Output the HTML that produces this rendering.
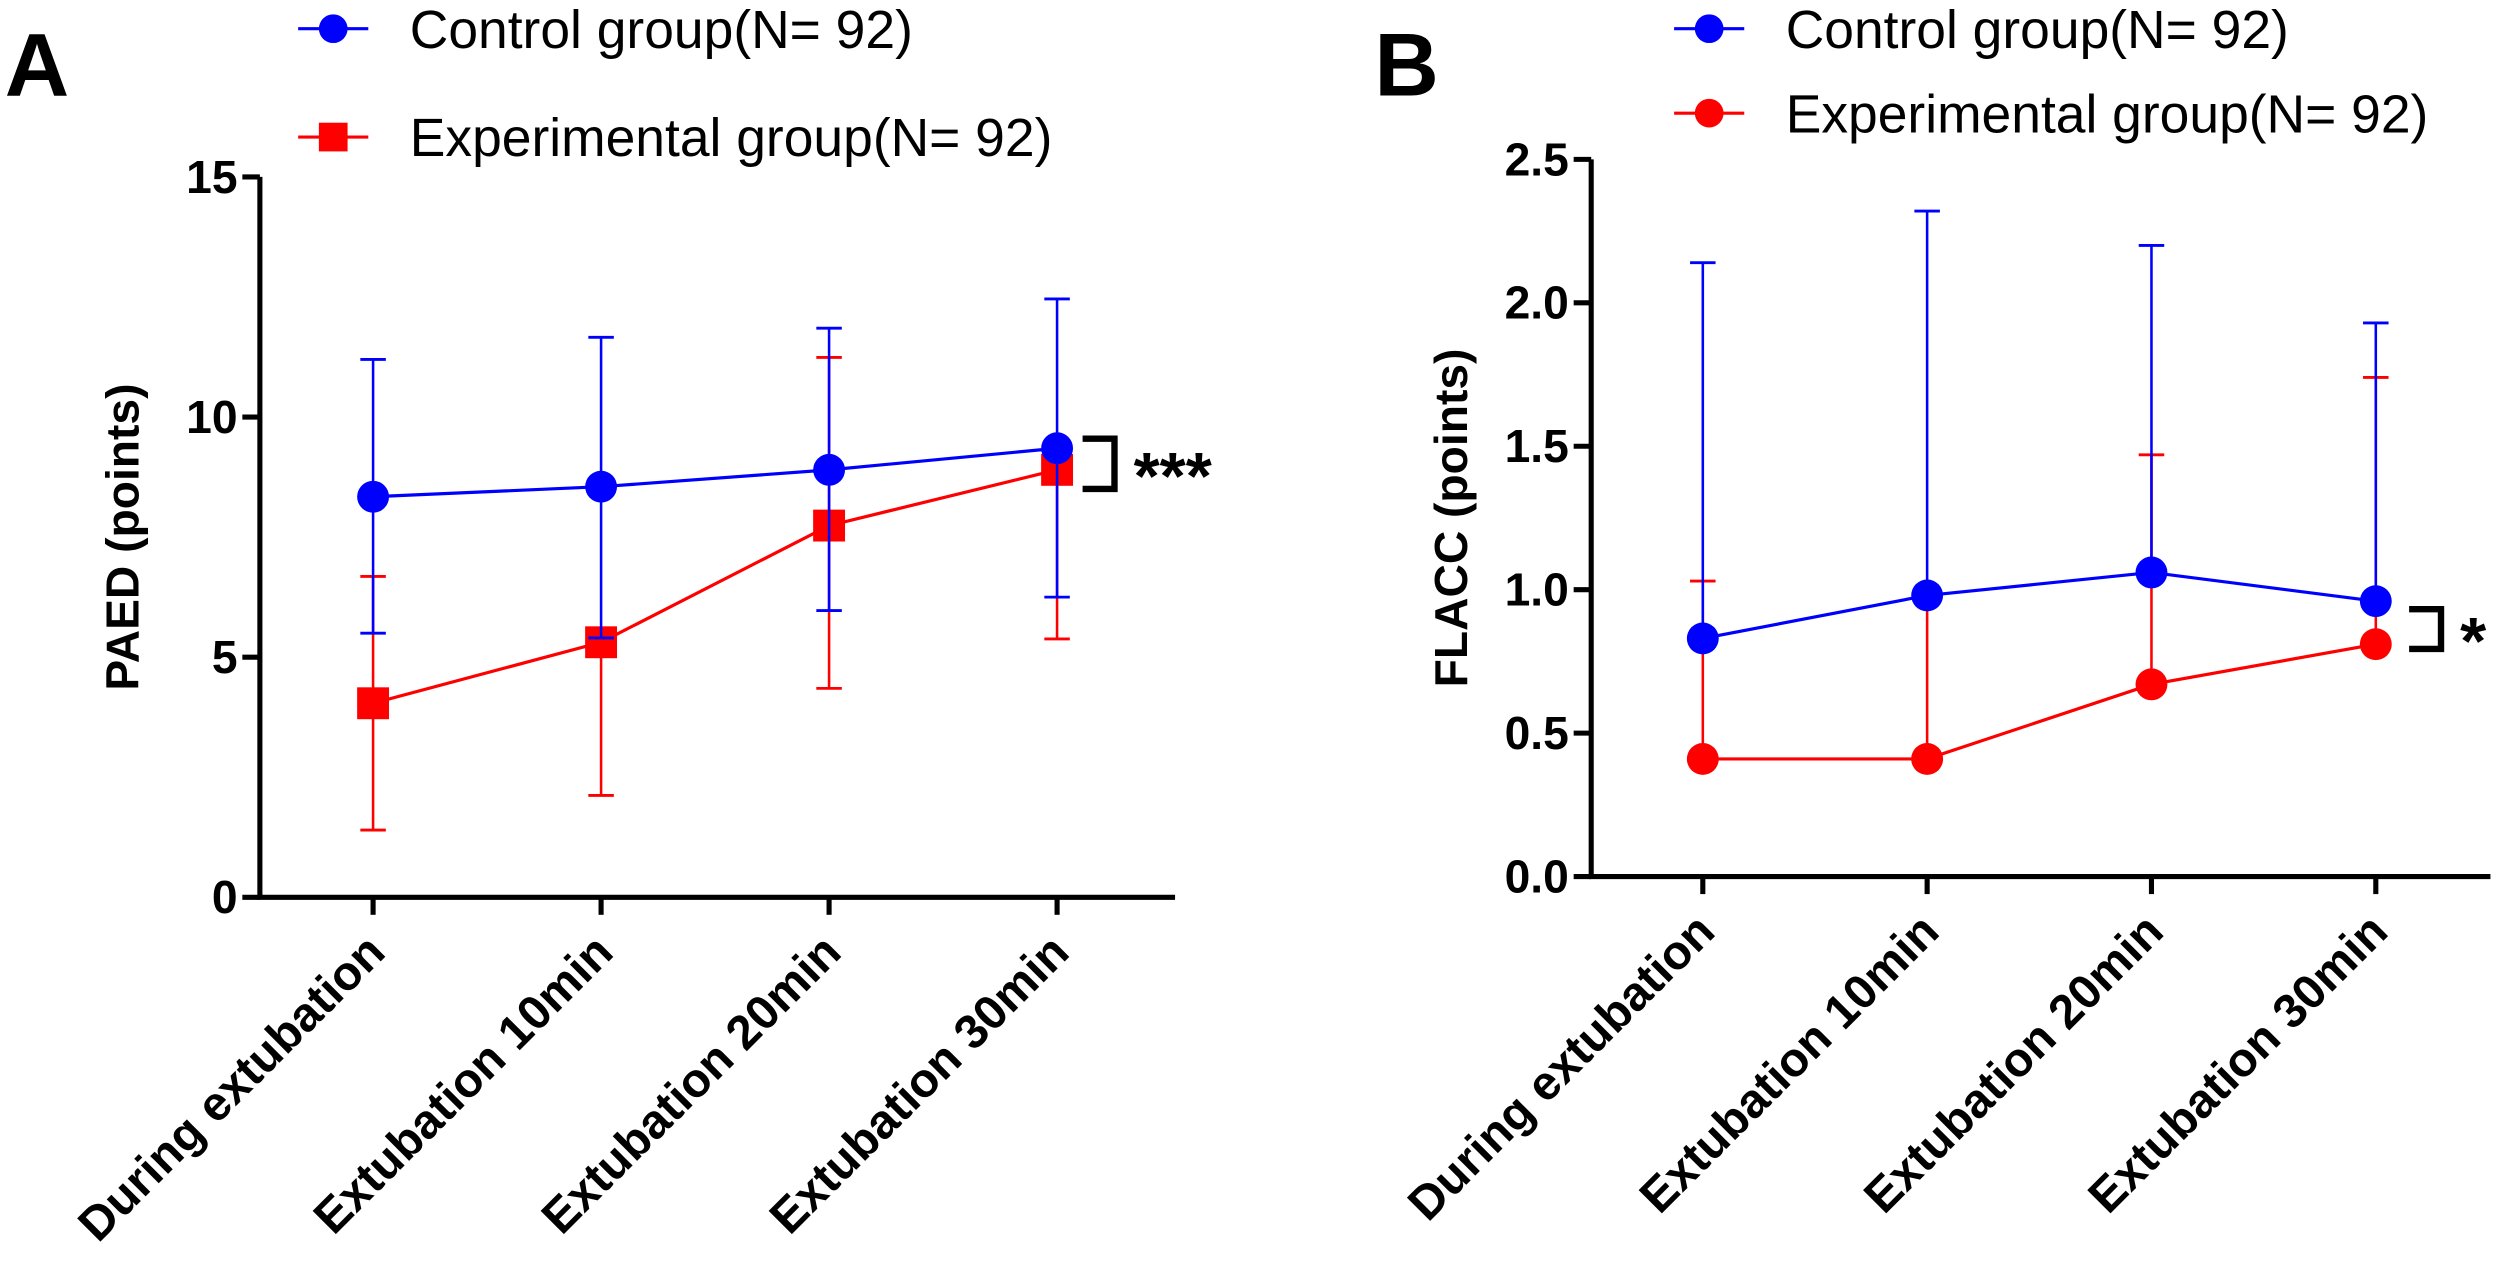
<!DOCTYPE html>
<html><head><meta charset="utf-8"><style>
html,body{margin:0;padding:0;background:#fff;}
svg{display:block;font-family:"Liberation Sans",Arial,sans-serif;}
</style></head><body>
<svg id="fig" width="2500" height="1275" viewBox="0 0 1568 800" preserveAspectRatio="none" xmlns="http://www.w3.org/2000/svg"></svg>
<script>
const categories = ["During extubation","Extubation 10min","Extubation 20min","Extubation 30min"];
// Panel A (PAED)
const aCtrlMean = [8.34, 8.55, 8.9, 9.35];
const aCtrlUp = [11.2, 11.66, 11.85, 12.46];
const aCtrlLo = [5.5, 5.4, 5.97, 6.25];
const aExpMean = [4.04, 5.31, 7.74, 8.9];
const aExpUp = [6.68, 5.45, 11.24, 9.3];
const aExpLo = [1.4, 2.12, 4.35, 5.38];
const aTicks = [0, 5, 10, 15];
const aTickLabels = ["0","5","10","15"];
// Panel B (FLACC)
const bCtrlMean = [0.83, 0.98, 1.06, 0.96];
const bCtrlUp = [2.14, 2.32, 2.2, 1.93];
const bExpMean = [0.41, 0.41, 0.67, 0.81];
const bExpUp = [1.03, 0.97, 1.47, 1.74];
const bTicks = [0, 0.5, 1.0, 1.5, 2.0, 2.5];
const bTickLabels = ["0.0","0.5","1.0","1.5","2.0","2.5"];

const NS = "http://www.w3.org/2000/svg";
const svg = document.getElementById('fig');
function mk(tag, attrs, parent, text){
  const e = document.createElementNS(NS, tag);
  for (const k in attrs) e.setAttribute(k, attrs[k]);
  if (text !== undefined) e.textContent = text;
  (parent || svg).appendChild(e);
  return e;
}

function panel(cfg){
  const g = mk('g', {});
  
  
  const y = v => cfg.y0 - (v - cfg.vmin) / (cfg.vmax - cfg.vmin) * (cfg.y0 - cfg.yTop);
  const x = i => cfg.xs0 + i * cfg.dx;
  const ya = mk('line', {x1: cfg.ax, y1: cfg.yTop, x2: cfg.ax, y2: cfg.y0, stroke: '#000', 'stroke-width': 3.2}, g);
  
  
  const xa = mk('line', {x1: cfg.ax - 1.6, y1: cfg.y0, x2: cfg.axEnd, y2: cfg.y0, stroke: '#000', 'stroke-width': 3.2}, g);
  
  
  cfg.ticks.forEach((t, i) => {
    mk('line', {x1: cfg.ax - 11, y1: y(t), x2: cfg.ax, y2: y(t), stroke: '#000', 'stroke-width': 3.2}, g);
    const tl = mk('text', {x: cfg.ax - 14, y: y(t) + 10, 'text-anchor': 'end', 'font-size': 29, 'font-weight': 'bold'}, g, cfg.tickLabels[i]);
    
    
  });
  categories.forEach((c, i) => {
    mk('line', {x1: x(i), y1: cfg.y0, x2: x(i), y2: cfg.y0 + 11, stroke: '#000', 'stroke-width': 3.2}, g);
    const tx = x(i) + 9, ty = cfg.y0 + 36;
    const t = mk('text', {x: tx, y: ty, 'text-anchor': 'end', 'font-size': 30, 'font-weight': 'bold', transform: `rotate(-45 ${tx} ${ty})`}, g, c);
    
    
  });
  const yt = mk('text', {x: cfg.titleX, y: cfg.titleY, 'text-anchor': 'middle', 'font-size': 29, 'font-weight': 'bold', transform: `rotate(-90 ${cfg.titleX} ${cfg.titleY})`}, g, cfg.title);
  
  

  function series(mean, up, lo, color, marker, sname){
    const sg = mk('g', {}, g);
    
    
    mean.forEach((m, i) => {
      const top = up ? up[i] : m;
      const bot = lo ? lo[i] : m;
      mk('line', {x1: x(i), y1: y(top), x2: x(i), y2: y(bot), stroke: color, 'stroke-width': 1.6}, sg);
      if (up) mk('line', {x1: x(i) - 8, y1: y(top), x2: x(i) + 8, y2: y(top), stroke: color, 'stroke-width': 1.8}, sg);
      if (lo) mk('line', {x1: x(i) - 8, y1: y(bot), x2: x(i) + 8, y2: y(bot), stroke: color, 'stroke-width': 1.8}, sg);
    });
    mk('polyline', {points: mean.map((m, i) => `${x(i)},${y(m)}`).join(' '), fill: 'none', stroke: color, 'stroke-width': 2}, sg);
    mean.forEach((m, i) => {
      let p;
      if (marker === 'square') p = mk('rect', {x: x(i) - 10, y: y(m) - 10, width: 20, height: 20, fill: color}, sg);
      else p = mk('circle', {cx: x(i), cy: y(m), r: 10, fill: color}, sg);
      
      
    });
  }
  series(cfg.eMean, cfg.eUp, cfg.eLo, '#ff0000', cfg.eMarker, 'experimental-series');
  series(cfg.cMean, cfg.cUp, cfg.cLo, '#0000ff', 'circle', 'control-series');

  const bg = mk('g', {}, g);
  
  
  const b1 = y(cfg.cMean[3]) + cfg.brOff1, b2 = y(cfg.eMean[3]) + cfg.brOff2;
  mk('polyline', {points: `${cfg.brX},${b1} ${cfg.brX + 20},${b1} ${cfg.brX + 20},${b2} ${cfg.brX},${b2}`, fill: 'none', stroke: '#000', 'stroke-width': 4}, bg);
  mk('text', {x: cfg.brX + 32, y: (b1 + b2) / 2 + 22, 'font-size': 42, 'font-weight': 'bold'}, bg, cfg.stars);

  const pl = mk('text', {x: cfg.letterX, y: 60, 'font-size': 56, 'font-weight': 'bold'}, g, cfg.letter);
  
  

  const lg = mk('g', {}, g);
  
  
  const e1 = mk('g', {}, lg);
  
  
  mk('line', {x1: cfg.legX, y1: cfg.legY1, x2: cfg.legX + 44, y2: cfg.legY1, stroke: '#0000ff', 'stroke-width': 2}, e1);
  mk('circle', {cx: cfg.legX + 22, cy: cfg.legY1, r: 9, fill: '#0000ff'}, e1);
  mk('text', {x: cfg.legX + 70, y: cfg.legY1 + 12, 'font-size': 33.5}, e1, 'Control group(N= 92)');
  const e2 = mk('g', {}, lg);
  
  
  mk('line', {x1: cfg.legX, y1: cfg.legY2, x2: cfg.legX + 44, y2: cfg.legY2, stroke: '#ff0000', 'stroke-width': 2}, e2);
  if (cfg.eMarker === 'square') mk('rect', {x: cfg.legX + 13, y: cfg.legY2 - 9, width: 18, height: 18, fill: '#ff0000'}, e2);
  else mk('circle', {cx: cfg.legX + 22, cy: cfg.legY2, r: 9, fill: '#ff0000'}, e2);
  mk('text', {x: cfg.legX + 70, y: cfg.legY2 + 12, 'font-size': 33.5}, e2, 'Experimental group(N= 92)');
}

panel({name: 'panel-a-paed', letter: 'A', letterX: 3, ax: 163, axEnd: 737, y0: 563, yTop: 111, vmin: 0, vmax: 15,
  xs0: 234, dx: 143, ticks: aTicks, tickLabels: aTickLabels, title: 'PAED (points)', titleX: 87, titleY: 337,
  cMean: aCtrlMean, cUp: aCtrlUp, cLo: aCtrlLo, eMean: aExpMean, eUp: aExpUp, eLo: aExpLo, eMarker: 'square',
  brX: 679, brOff1: -6, brOff2: 12, stars: '***', legX: 187, legY1: 18, legY2: 86});
panel({name: 'panel-b-flacc', letter: 'B', letterX: 862, ax: 998, axEnd: 1562, y0: 550, yTop: 100, vmin: 0, vmax: 2.5,
  xs0: 1068, dx: 140.7, ticks: bTicks, tickLabels: bTickLabels, title: 'FLACC (points)', titleX: 920, titleY: 325,
  cMean: bCtrlMean, cUp: bCtrlUp, cLo: null, eMean: bExpMean, eUp: bExpUp, eLo: null, eMarker: 'circle',
  brX: 1511, brOff1: 5, brOff2: 3, stars: '*', legX: 1050, legY1: 18, legY2: 71});
</script>
</body></html>
